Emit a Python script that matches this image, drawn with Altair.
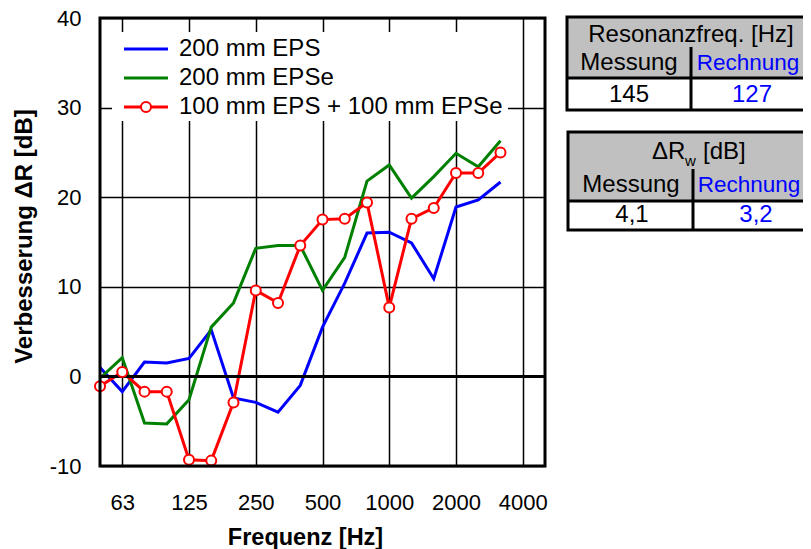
import altair as alt
import pandas as pd

# ---- data ----
bands = ["50", "63", "80", "100", "125", "160", "200", "250", "315", "400", "500",
         "630", "800", "1000", "1250", "1600", "2000", "2500", "3150", "4000", "5000"]
freqs = bands[:19]
tick_labels = ["63", "125", "250", "500", "1000", "2000", "4000"]
series_names = ["200 mm EPS", "200 mm EPSe", "100 mm EPS + 100 mm EPSe"]
series_colors = ["#0000ff", "#008000", "#ff0000"]
eps = [1.0, -1.7, 1.6, 1.5, 2.0, 5.2, -2.4, -2.9, -4.0, -1.0, 5.5, 10.4, 16.0, 16.1, 14.9, 10.9, 18.9, 19.7, 21.7]
epse = [-0.2, 2.1, -5.2, -5.3, -2.6, 5.5, 8.2, 14.3, 14.6, 14.6, 9.6, 13.3, 21.8, 23.6, 19.9, 22.3, 24.9, 23.4, 26.3]
combo = [-1.1, 0.5, -1.7, -1.7, -9.3, -9.4, -2.9, 9.6, 8.2, 14.6, 17.5, 17.6, 19.4, 7.7, 17.6, 18.8, 22.7, 22.7, 25.0]
y_ticks = [-10, 0, 10, 20, 30, 40]
table1_header = "Resonanzfreq. [Hz]"
table2_header = ["ΔR", "w", "[dB]"]
col_headers = ["Messung", "Rechnung"]
table1_values = ["145", "127"]
table2_values = ["4,1", "3,2"]

FONT = "Liberation Sans"
FS = 22      # tick labels
TFS = 24     # legend / table text
BLUE = "#0000ff"
GRAY = "#c0c0c0"
W, H = 445, 448

rows = []
for name, vals in zip(series_names, [eps, epse, combo]):
    for f, v in zip(freqs, vals):
        rows.append({"f": f, "series": name, "v": v})
df = pd.DataFrame(rows)

x_enc = alt.X("f:O", sort=bands,
              scale=alt.Scale(type="point", domain=bands, padding=0),
              axis=alt.Axis(values=tick_labels, labelAngle=0, ticks=False, tickSize=0,
                            domain=False, grid=True, gridColor="#000", gridWidth=1.5,
                            gridOpacity=1, labelFontSize=FS, labelFont=FONT, labelColor="#000",
                            labelPadding=26, labelBaseline="top",
                            title="Frequenz [Hz]", titleFont=FONT, titleFontSize=23.5,
                            titleFontWeight="bold", titleColor="#000",
                            titleX=205, titleY=71, titleAnchor="middle",
                            titleBaseline="middle", titleAlign="center"))
y_enc = alt.Y("v:Q",
              scale=alt.Scale(domain=[-10, 40], nice=False, zero=False),
              axis=alt.Axis(values=y_ticks, ticks=False, tickSize=0, domain=False, grid=True,
                            gridColor="#000", gridWidth=1.5, gridOpacity=1,
                            labelFontSize=FS, labelFont=FONT, labelColor="#000",
                            labelPadding=19, labelExpr="'' + datum.value",
                            title="Verbesserung ΔR [dB]", titleFont=FONT, titleFontSize=24,
                            titleFontWeight="bold", titleColor="#000",
                            titleX=-76, titleY=218, titleAngle=-90, titleAnchor="middle",
                            titleBaseline="middle", titleAlign="center"))
color_enc = alt.Color("series:N", scale=alt.Scale(domain=series_names, range=series_colors),
                      legend=None)

base = alt.Chart(df)
lines = base.mark_line(strokeWidth=3, clip=True).encode(
    x=x_enc, y=y_enc, color=color_enc,
)
points = base.transform_filter(alt.datum.series == series_names[2]).mark_point(
    shape="circle", filled=True, fill="white", stroke="#ff0000", strokeWidth=2,
    size=100, opacity=1, clip=False).encode(x="f:O", y="v:Q")

one = pd.DataFrame({"a": [0]})
zero_line = alt.Chart(one).mark_rule(color="#000", strokeWidth=3).encode(y=alt.datum(0))


def rect(x1, x2, y1, y2, fill, stroke=None, sw=0):
    kw = dict(strokeWidth=sw)
    if fill:
        kw["fill"] = fill
    else:
        kw["fillOpacity"] = 0
    if stroke:
        kw["stroke"] = stroke
    return alt.Chart(one).mark_rect(**kw).encode(
        x=alt.value(x1), x2=alt.value(x2), y=alt.value(y1), y2=alt.value(y2))


def hrule(x1, x2, y, color="#000", sw=3):
    return alt.Chart(one).mark_rule(color=color, strokeWidth=sw).encode(
        x=alt.value(x1), x2=alt.value(x2), y=alt.value(y))


def vrule(x, y1, y2, color="#000", sw=3):
    return alt.Chart(one).mark_rule(color=color, strokeWidth=sw).encode(
        x=alt.value(x), y=alt.value(y1), y2=alt.value(y2))


def label(txt, x, y, size=TFS, color="#000", align="center", weight="normal"):
    return alt.Chart(pd.DataFrame({"t": [txt]})).mark_text(
        font=FONT, fontSize=size, color=color, align=align, baseline="middle",
        fontWeight=weight).encode(x=alt.value(x), y=alt.value(y), text="t:N")


frame = rect(0, W, 0, H, None, "#000", 3)

# legend (inside plot)
legend_layers = [rect(12, 408, 14, 103, "white")]
for i, (name, col) in enumerate(zip(series_names, series_colors)):
    yy = 31 + 29 * i
    legend_layers.append(hrule(24, 68, yy, color=col, sw=3))
    legend_layers.append(label(name, 79, yy, align="left"))
legend_layers.append(
    alt.Chart(one).mark_point(shape="circle", filled=True, fill="white", stroke="#ff0000",
                              strokeWidth=2, size=100, opacity=1).encode(
        x=alt.value(46), y=alt.value(89)))

# table 1
t1 = [
    rect(467, 715, -1, 60, GRAY),
    rect(467, 715, -1, 92, None, "#000", 3),
    hrule(467, 715, 60),
    vrule(591, 29, 92),
    label(table1_header, 591, 17),
    label(col_headers[0], 529, 45),
    label(col_headers[1], 648, 45, size=22.5, color=BLUE),
    label(table1_values[0], 529, 77),
    label(table1_values[1], 652, 77, color=BLUE),
]
# table 2
t2 = [
    rect(468, 715, 114, 183, GRAY),
    rect(468, 715, 114, 212, None, "#000", 3),
    hrule(468, 715, 183),
    vrule(593, 151, 212),
    label(table2_header[0], 552, 134, align="left"),
    label(table2_header[1], 585, 143, size=15, align="left"),
    label(table2_header[2], 603, 134, align="left"),
    label(col_headers[0], 531, 167),
    label(col_headers[1], 649, 167, size=22.5, color=BLUE),
    label(table2_values[0], 532, 197),
    label(table2_values[1], 656, 197, color=BLUE),
]

chart = alt.layer(
    lines, zero_line, points, *legend_layers, frame, *t1, *t2
).properties(
    width=W, height=H,
    autosize=alt.AutoSizeParams(type="none"),
    padding={"left": 92, "top": 10, "right": 258, "bottom": 83},
).configure_view(
    stroke=None
).configure(
    font=FONT
)

chart.save("out.html", embed_options={"renderer": "svg", "actions": False})
